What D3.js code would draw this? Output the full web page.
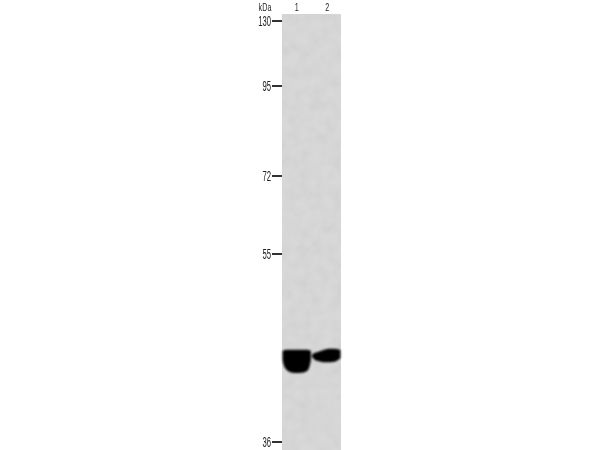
<!DOCTYPE html>
<html><head><meta charset="utf-8">
<script src="https://cdn.jsdelivr.net/npm/d3@7"></script>
<style>html,body{margin:0;padding:0;background:#fff}svg{display:block}text{font-family:"Liberation Sans",sans-serif;fill:#222}</style>
</head><body><svg id="c" width="600" height="450"></svg>
<script>
const markers=[130,95,72,55,36];
const lanes=["1","2"];
const unit="kDa";
const bandAcross=[0,0.08,0.2,0.35,0.5,0.65,0.8,0.92,1];
const band1Top=[44.2,44.3,44.33,44.33,44.33,44.33,44.33,44.3,44.2];
const band1Bottom=[43.3,42.55,42.22,42.08,42.05,42.08,42.15,42.45,43.3];
const band2Top=[43.85,44.0,44.1,44.25,44.38,44.42,44.42,44.38,44.3];
const band2Bottom=[43.6,43.35,43.2,43.12,43.08,43.1,43.15,43.3,43.5];
const bands=[{lane:"1",top:band1Top,bottom:band1Bottom},{lane:"2",top:band2Top,bottom:band2Bottom}];

const svg=d3.select("#c");
const y=d3.scaleLog().domain(markers).range([21,86,176,254,442]);
const x=d3.scaleBand().domain(lanes).range([282,341]).paddingInner(0.04).paddingOuter(0.02);
const defs=svg.append("defs");
defs.append("filter").attr("id","soft").append("feGaussianBlur").attr("stdDeviation",1.2);
defs.append("filter").attr("id","txt").append("feGaussianBlur").attr("stdDeviation",0.35);
const grain=defs.append("filter").attr("id","grain").attr("x",0).attr("y",0).attr("width",1).attr("height",1);
grain.append("feTurbulence").attr("type","fractalNoise").attr("baseFrequency",0.09).attr("numOctaves",2).attr("seed",4).attr("result","n");
grain.append("feColorMatrix").attr("in","n").attr("type","matrix").attr("values","0 0 0 0 0.5  0 0 0 0 0.5  0 0 0 0 0.5  0.5 0 0 0 -0.16").attr("result","t");
grain.append("feMerge").selectAll("feMergeNode").data(["SourceGraphic","t"]).join("feMergeNode").attr("in",d=>d);

const gelTop=14, gelBottom=450;
svg.append("rect").attr("x",x.range()[0]).attr("y",gelTop).attr("width",x.range()[1]-x.range()[0]).attr("height",gelBottom-gelTop).attr("fill","#d8d8d8").attr("filter","url(#grain)");

const area=d3.area().x(d=>d.x).y0(d=>y(d.b)).y1(d=>y(d.t)).curve(d3.curveCatmullRom);
svg.append("g").attr("filter","url(#soft)").selectAll("path").data(bands).join("path")
  .attr("fill","#050505")
  .attr("d",b=>{const s=d3.scaleLinear().range([x(b.lane),x(b.lane)+x.bandwidth()]);
    return area(bandAcross.map((f,i)=>({x:s(f),t:b.top[i],b:b.bottom[i]})));});

const ax=svg.append("g").attr("filter","url(#txt)");
ax.selectAll("line").data(markers).join("line")
  .attr("x1",272).attr("x2",282).attr("y1",d=>y(d)).attr("y2",d=>y(d)).attr("stroke","#333").attr("stroke-width",2);
const squeezed=(sel,px,py,sx,sy)=>sel.attr("transform",`translate(${px},${py}) scale(${sx},${sy})`);
ax.selectAll("text.m").data(markers).join("text").attr("class","m").attr("text-anchor","end").attr("font-size",11)
  .each(function(d){squeezed(d3.select(this),271,y(d)+5,0.7,1.3)}).text(d=>d);
ax.selectAll("text.l").data(lanes).join("text").attr("class","l").attr("text-anchor","middle").attr("font-size",9)
  .each(function(d){squeezed(d3.select(this),x(d)+x.bandwidth()/2+(d==="2"?1:0),11,0.8,1.2)}).text(d=>d);
squeezed(ax.append("text").attr("class","u").attr("text-anchor","middle").attr("font-size",9),265,11,0.8,1.15).text(unit);
</script></body></html>
